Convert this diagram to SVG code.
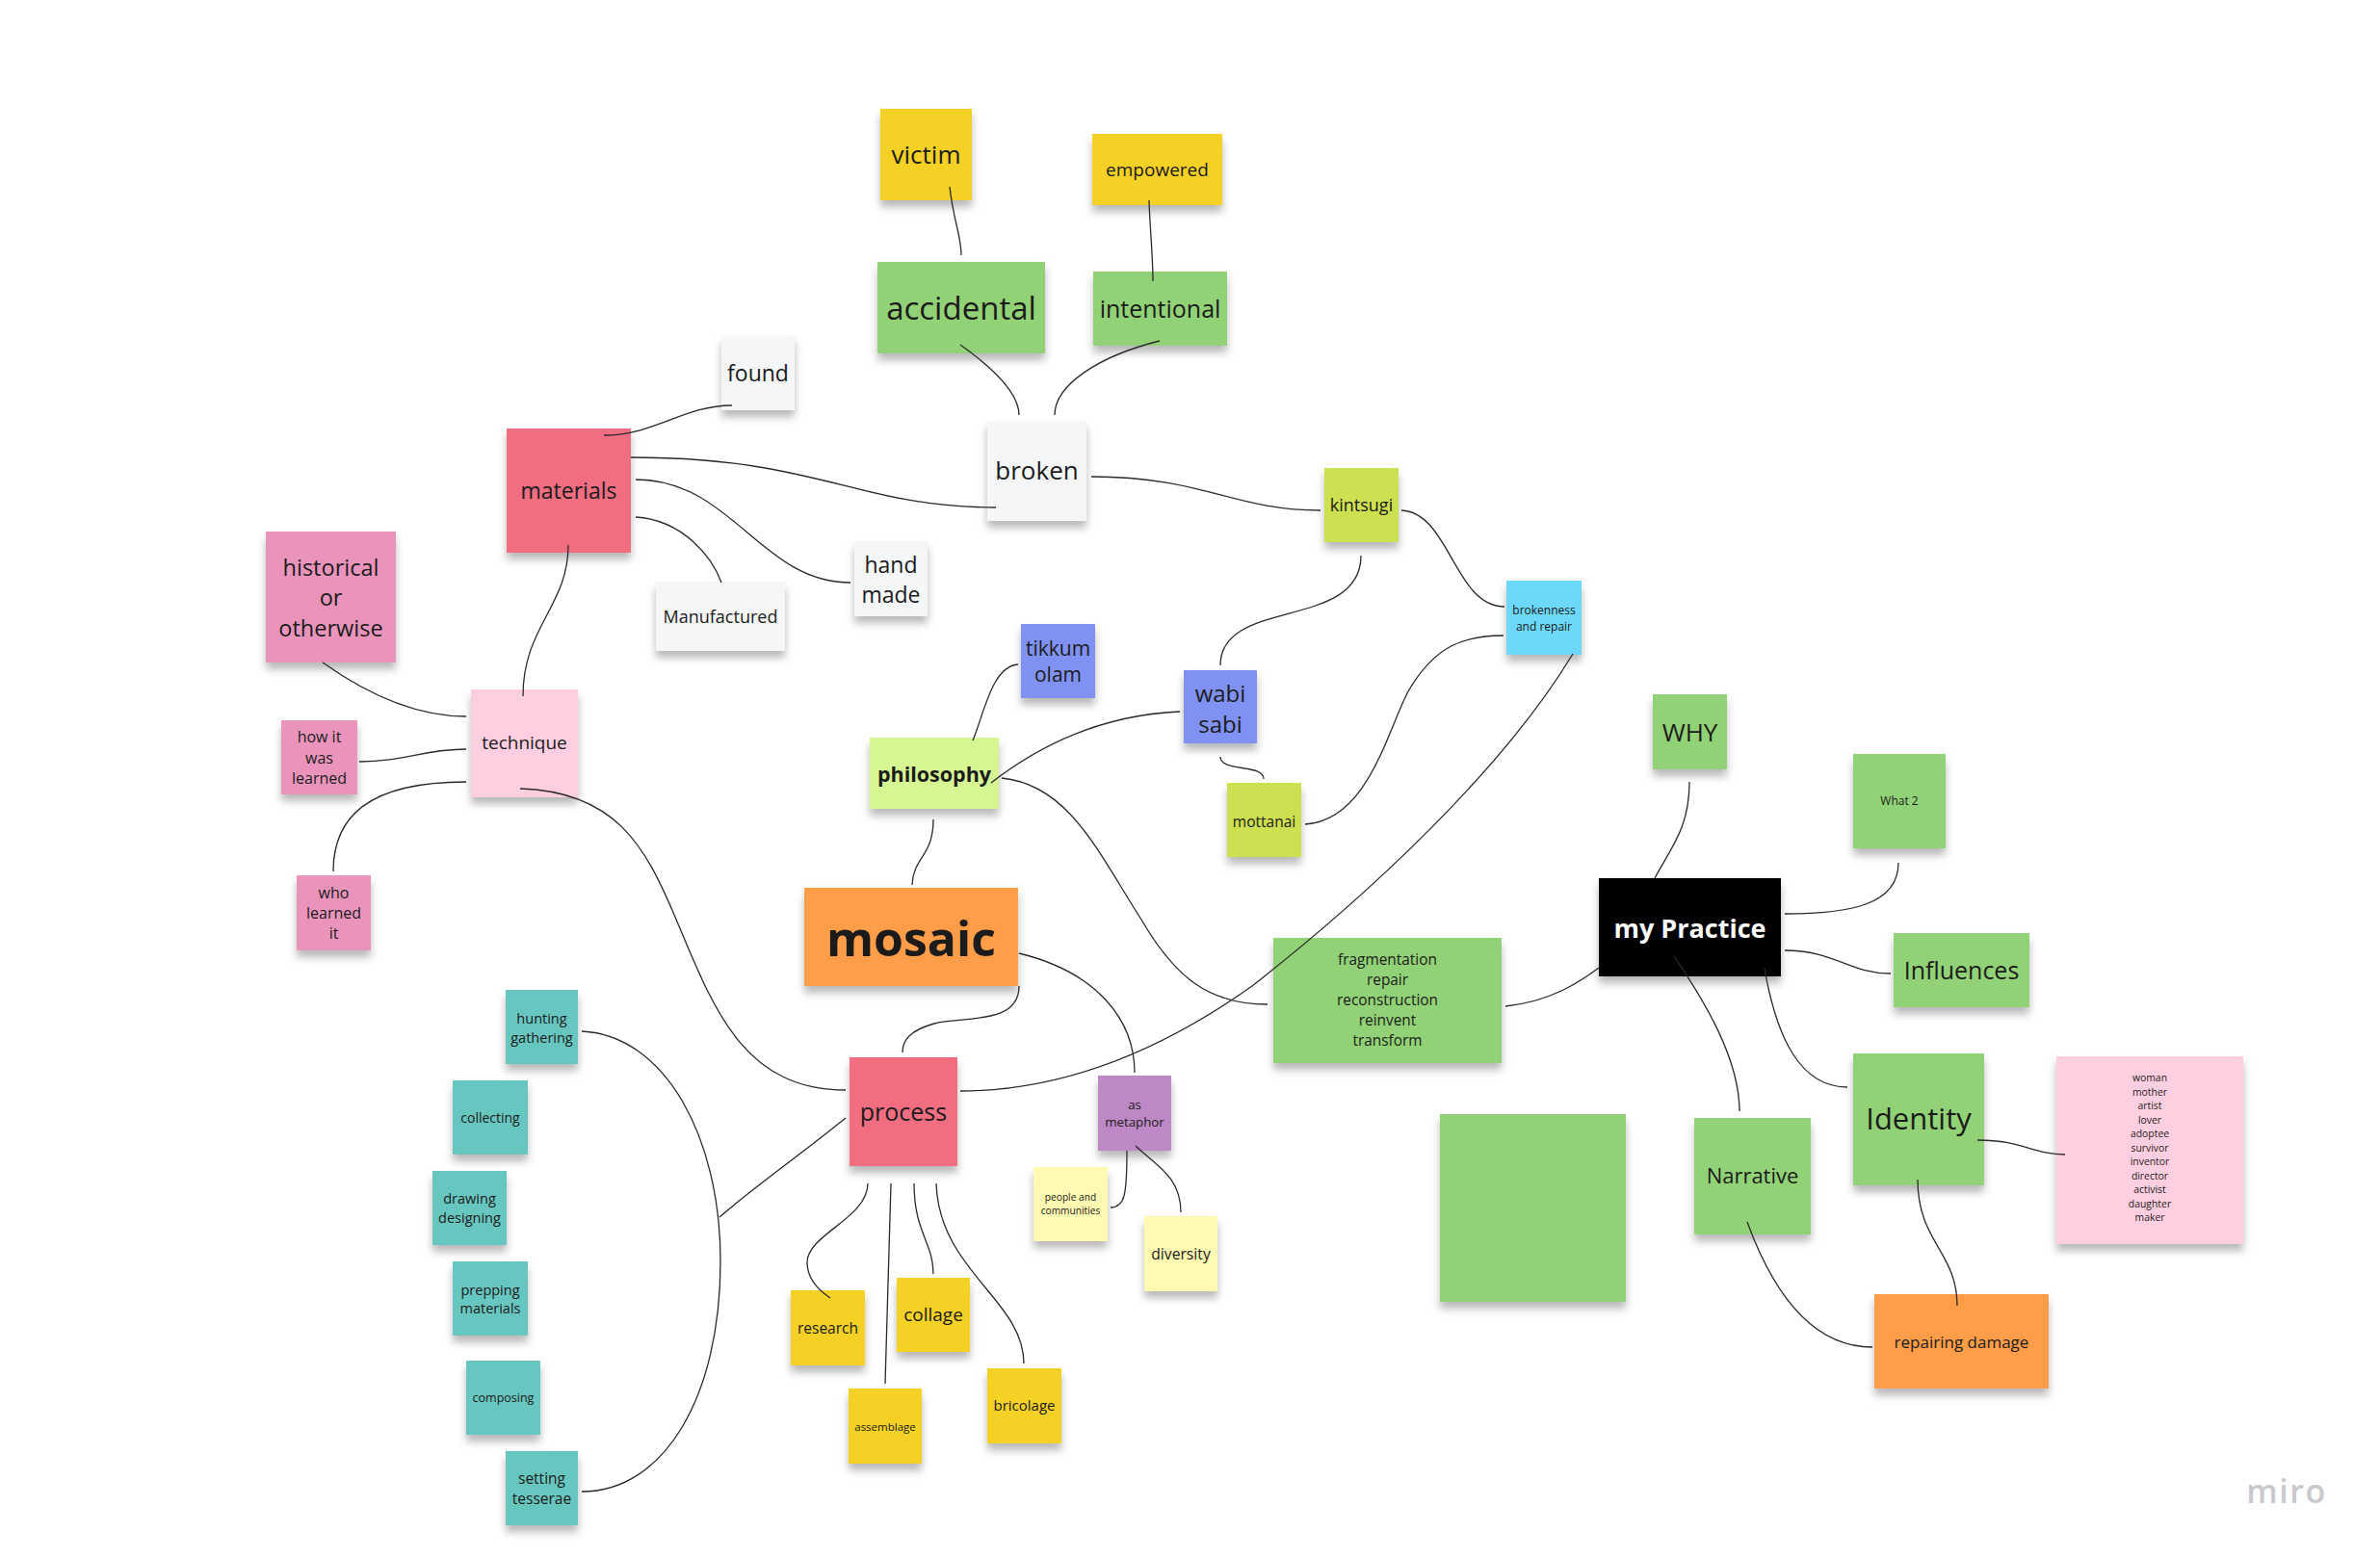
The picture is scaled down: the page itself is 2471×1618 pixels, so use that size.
<svg xmlns="http://www.w3.org/2000/svg" width="2471" height="1618" viewBox="0 0 2471 1618">
<defs>
<filter id="sh" x="-20%" y="-20%" width="140%" height="150%">
<feDropShadow dx="0" dy="7" stdDeviation="4.5" flood-color="#000" flood-opacity="0.28"/>
</filter>
<linearGradient id="sheen" x1="0" y1="0" x2="0" y2="1">
<stop offset="0" stop-color="#fff" stop-opacity="0"/>
<stop offset="1" stop-color="#fff" stop-opacity="0.12"/>
</linearGradient>
</defs>
<style>
text{font-family:"Open Sans","Noto Sans","Liberation Sans",sans-serif;fill:#1b1b1b;text-anchor:middle;dominant-baseline:central}
.n rect{filter:url(#sh)}
.yellow{fill:#F5D128}.green{fill:#92D276}.gray{fill:#F5F6F8}.red{fill:#F16D80}.pink{fill:#EA94BB}
.lpink{fill:#FFCEE0}.blue{fill:#7F92F4}.lime{fill:#CDE04F}.cyan{fill:#6CD8FA}.teal{fill:#67C6C0}
.violet{fill:#BE88C7}.lyellow{fill:#FFF9B1}.lgreen{fill:#D5F692}.orange{fill:#FF9D48}.black{fill:#000}
.b{font-weight:700}
.c path{fill:none;stroke:#2a2a2a;stroke-width:1.3}
</style>
<rect width="2471" height="1618" fill="#fff"/>
<g id="nodes">
<g id="n-victim" class="n"><rect class="yellow" x="914" y="113" width="95" height="95"/><text x="961.5" y="160" font-size="26">victim</text></g>
<g id="n-empowered" class="n"><rect class="yellow" x="1134" y="139" width="135" height="74"/><text x="1201.5" y="176" font-size="19">empowered</text></g>
<g id="n-accidental" class="n"><rect class="green" x="911" y="272" width="174" height="95"/><text x="998" y="319" font-size="33">accidental</text></g>
<g id="n-intentional" class="n"><rect class="green" x="1135" y="282" width="139" height="77"/><text x="1204.5" y="320" font-size="25">intentional</text></g>
<g id="n-found" class="n"><rect class="gray" x="749" y="349" width="76" height="77"/><text x="787" y="387" font-size="23">found</text></g>
<g id="n-materials" class="n"><rect class="red" x="526" y="445" width="129" height="129"/><text x="590.5" y="509" font-size="23">materials</text></g>
<g id="n-broken" class="n"><rect class="gray" x="1025" y="437" width="103" height="104"/><text x="1076.5" y="488" font-size="26">broken</text></g>
<g id="n-historical" class="n"><rect class="pink" x="276" y="552" width="135" height="136"/><text x="343.5" font-size="23.5"><tspan x="343.5" y="588.5">historical</tspan><tspan x="343.5" y="620">or</tspan><tspan x="343.5" y="651.5">otherwise</tspan></text></g>
<g id="n-manufactured" class="n"><rect class="gray" x="681" y="604" width="134" height="72"/><text x="748" y="640" font-size="18">Manufactured</text></g>
<g id="n-handmade" class="n"><rect class="gray" x="887" y="562" width="76" height="78"/><text x="925" font-size="23"><tspan x="925" y="585.5">hand</tspan><tspan x="925" y="616.5">made</tspan></text></g>
<g id="n-tikkum" class="n"><rect class="blue" x="1060" y="648" width="77" height="77"/><text x="1098.5" font-size="21"><tspan x="1098.5" y="673">tikkum</tspan><tspan x="1098.5" y="700">olam</tspan></text></g>
<g id="n-kintsugi" class="n"><rect class="lime" x="1375" y="486" width="77" height="77"/><text x="1413.5" y="524" font-size="18">kintsugi</text></g>
<g id="n-brokenness" class="n"><rect class="cyan" x="1564" y="603" width="78" height="77"/><text x="1603" font-size="12"><tspan x="1603" y="633">brokenness</tspan><tspan x="1603" y="650">and repair</tspan></text></g>
<g id="n-wabisabi" class="n"><rect class="blue" x="1229" y="696" width="76" height="76"/><text x="1267" font-size="24"><tspan x="1267" y="719">wabi</tspan><tspan x="1267" y="751">sabi</tspan></text></g>
<g id="n-mottanai" class="n"><rect class="lime" x="1274" y="813" width="77" height="77"/><text x="1312.5" y="853" font-size="15.5">mottanai</text></g>
<g id="n-philosophy" class="n"><rect class="lgreen" x="903" y="766" width="134" height="74"/><text class="b" x="970" y="803" font-size="21.5">philosophy</text></g>
<g id="n-mosaic" class="n"><rect class="orange" x="835" y="922" width="222" height="102"/><text class="b" x="946" y="974" font-size="50">mosaic</text></g>
<g id="n-technique" class="n"><rect class="lpink" x="489" y="716" width="111" height="112"/><text x="544.5" y="771" font-size="19">technique</text></g>
<g id="n-howit" class="n"><rect class="pink" x="292" y="748" width="79" height="77"/><text x="331.5" font-size="16"><tspan x="331.5" y="765">how it</tspan><tspan x="331.5" y="786.5">was</tspan><tspan x="331.5" y="808">learned</tspan></text></g>
<g id="n-wholearned" class="n"><rect class="pink" x="308" y="909" width="77" height="78"/><text x="346.5" font-size="16"><tspan x="346.5" y="927">who</tspan><tspan x="346.5" y="948">learned</tspan><tspan x="346.5" y="969">it</tspan></text></g>
<g id="n-process" class="n"><rect class="red" x="882" y="1098" width="112" height="113"/><text x="938" y="1154" font-size="25">process</text></g>
<g id="n-hunting" class="n"><rect class="teal" x="525" y="1028" width="75" height="77"/><text x="562.5" font-size="14.5"><tspan x="562.5" y="1057">hunting</tspan><tspan x="562.5" y="1076.5">gathering</tspan></text></g>
<g id="n-collecting" class="n"><rect class="teal" x="470" y="1122" width="78" height="77"/><text x="509" y="1160" font-size="14">collecting</text></g>
<g id="n-drawing" class="n"><rect class="teal" x="449" y="1216" width="77" height="77"/><text x="487.5" font-size="14.5"><tspan x="487.5" y="1244">drawing</tspan><tspan x="487.5" y="1264">designing</tspan></text></g>
<g id="n-prepping" class="n"><rect class="teal" x="470" y="1310" width="78" height="77"/><text x="509" font-size="14.5"><tspan x="509" y="1338.5">prepping</tspan><tspan x="509" y="1358">materials</tspan></text></g>
<g id="n-composing" class="n"><rect class="teal" x="484" y="1413" width="77" height="77"/><text x="522.5" y="1451" font-size="12.5">composing</text></g>
<g id="n-setting" class="n"><rect class="teal" x="525" y="1507" width="75" height="77"/><text x="562.5" font-size="15.5"><tspan x="562.5" y="1535">setting</tspan><tspan x="562.5" y="1555.5">tesserae</tspan></text></g>
<g id="n-research" class="n"><rect class="yellow" x="821" y="1340" width="77" height="78"/><text x="859.5" y="1379" font-size="15.5">research</text></g>
<g id="n-collage" class="n"><rect class="yellow" x="931" y="1327" width="76" height="77"/><text x="969" y="1365" font-size="19">collage</text></g>
<g id="n-assemblage" class="n"><rect class="yellow" x="881" y="1442" width="76" height="78"/><text x="919" y="1481" font-size="11.5">assemblage</text></g>
<g id="n-bricolage" class="n"><rect class="yellow" x="1025" y="1421" width="77" height="78"/><text x="1063.5" y="1459" font-size="15">bricolage</text></g>
<g id="n-metaphor" class="n"><rect class="violet" x="1140" y="1117" width="76" height="78"/><text x="1178" font-size="13.3"><tspan x="1178" y="1147">as</tspan><tspan x="1178" y="1165">metaphor</tspan></text></g>
<g id="n-people" class="n"><rect class="lyellow" x="1073" y="1212" width="77" height="77"/><text x="1111.5" font-size="10.2"><tspan x="1111.5" y="1243">people and</tspan><tspan x="1111.5" y="1257">communities</tspan></text></g>
<g id="n-diversity" class="n"><rect class="lyellow" x="1188" y="1263" width="76" height="78"/><text x="1226" y="1302" font-size="15.7">diversity</text></g>
<g id="n-why" class="n"><rect class="green" x="1716" y="721" width="77" height="78"/><text x="1754.5" y="760" font-size="26">WHY</text></g>
<g id="n-what2" class="n"><rect class="green" x="1924" y="783" width="96" height="98"/><text x="1972" y="831" font-size="12">What 2</text></g>
<g id="n-practice" class="n"><rect class="black" x="1660" y="912" width="189" height="102"/><text class="b" x="1754.5" y="963" font-size="27" style="fill:#fff">my Practice</text></g>
<g id="n-fragmentation" class="n"><rect class="green" x="1322" y="974" width="237" height="130"/><text x="1440.5" font-size="15.4"><tspan x="1440.5" y="996">fragmentation</tspan><tspan x="1440.5" y="1017">repair</tspan><tspan x="1440.5" y="1038">reconstruction</tspan><tspan x="1440.5" y="1059">reinvent</tspan><tspan x="1440.5" y="1080">transform</tspan></text></g>
<g id="n-influences" class="n"><rect class="green" x="1966" y="969" width="141" height="77"/><text x="2036.5" y="1007" font-size="25">Influences</text></g>
<g id="n-blank" class="n"><rect class="green" x="1495" y="1157" width="193" height="195"/></g>
<g id="n-narrative" class="n"><rect class="green" x="1759" y="1161" width="121" height="121"/><text x="1819.5" y="1220" font-size="22">Narrative</text></g>
<g id="n-identity" class="n"><rect class="green" x="1924" y="1094" width="136" height="137"/><text x="1992" y="1161" font-size="31">Identity</text></g>
<g id="n-roles" class="n"><rect class="lpink" x="2135" y="1097" width="194" height="195"/><text x="2232" font-size="10.4"><tspan x="2232" y="1119">woman</tspan><tspan x="2232" y="1133.5">mother</tspan><tspan x="2232" y="1148">artist</tspan><tspan x="2232" y="1162.5">lover</tspan><tspan x="2232" y="1177">adoptee</tspan><tspan x="2232" y="1191.5">survivor</tspan><tspan x="2232" y="1206">inventor</tspan><tspan x="2232" y="1220.5">director</tspan><tspan x="2232" y="1235">activist</tspan><tspan x="2232" y="1249.5">daughter</tspan><tspan x="2232" y="1264">maker</tspan></text></g>
<g id="n-repairing" class="n"><rect class="orange" x="1946" y="1344" width="181" height="98"/><text x="2036.5" y="1393" font-size="17">repairing damage</text></g>
</g>
<g id="connectors" class="c">
<path d="M986,194 C990,230 998,245 998,265"/>
<path d="M1193,208 C1194,240 1197,265 1197,292"/>
<path d="M997,358 C1035,385 1058,410 1058,431"/>
<path d="M1204,354 C1140,370 1095,400 1095,431"/>
<path d="M760,421 C710,421 680,452 627,452"/>
<path d="M655,475 C850,475 890,527 1034,527"/>
<path d="M660,498 C760,498 790,605 883,605"/>
<path d="M660,537 C710,540 740,580 749,605"/>
<path d="M590,566 C590,630 543,650 543,723"/>
<path d="M1133,495 C1250,495 1280,530 1371,530"/>
<path d="M1455,530 C1505,532 1510,630 1562,630"/>
<path d="M1413,577 C1413,655 1267,620 1267,691"/>
<path d="M1057,690 C1030,692 1022,740 1010,769"/>
<path d="M1225,739 C1130,743 1065,785 1029,813"/>
<path d="M1040,808 C1110,815 1140,885 1185,955 C1220,1015 1255,1043 1316,1043"/>
<path d="M1267,786 C1267,802 1312,793 1312,809"/>
<path d="M1355,856 C1420,852 1440,760 1462,718 C1490,670 1520,660 1561,660"/>
<path d="M1633,679 C1560,800 1420,930 1300,1024 C1200,1095 1100,1133 997,1133"/>
<path d="M540,819 C640,822 670,880 700,950 C740,1045 770,1132 878,1132"/>
<path d="M335,688 C380,720 430,744 484,744"/>
<path d="M373,791 C420,791 440,778 484,778"/>
<path d="M346,905 C346,850 380,812 484,812"/>
<path d="M969,851 C969,890 948,890 947,919"/>
<path d="M1058,1024 C1058,1065 1000,1055 970,1063 C945,1070 937,1080 937,1093"/>
<path d="M1058,990 C1140,1010 1178,1060 1178,1114"/>
<path d="M878,1161 C830,1200 780,1235 747,1264"/>
<path d="M604,1071 C690,1075 748,1180 748,1310 C748,1450 690,1549 604,1549"/>
<path d="M901,1229 C901,1265 838,1282 838,1311 C838,1330 853,1342 862,1348"/>
<path d="M925,1229 L919,1437"/>
<path d="M949,1229 C949,1280 969,1290 969,1323"/>
<path d="M972,1229 C975,1320 1063,1350 1063,1416"/>
<path d="M1170,1195 C1170,1240 1168,1254 1153,1254"/>
<path d="M1179,1190 C1200,1210 1226,1222 1226,1259"/>
<path d="M1754,812 C1754,860 1735,880 1718,912"/>
<path d="M1971,896 C1971,940 1920,949 1853,949"/>
<path d="M1853,987 C1905,987 1920,1011 1963,1011"/>
<path d="M1563,1045 C1610,1040 1640,1020 1660,1005"/>
<path d="M1738,993 C1770,1040 1806,1100 1806,1154"/>
<path d="M1832,1006 C1845,1080 1870,1129 1918,1129"/>
<path d="M2053,1184 C2100,1184 2110,1199 2144,1199"/>
<path d="M1991,1225 C1991,1290 2032,1300 2032,1356"/>
<path d="M1814,1269 C1840,1340 1880,1399 1944,1399"/>
</g>
<text x="2374" y="1548" font-size="34" font-weight="600" letter-spacing="1.5" style="fill:#C8C8CE">miro</text>
</svg>
